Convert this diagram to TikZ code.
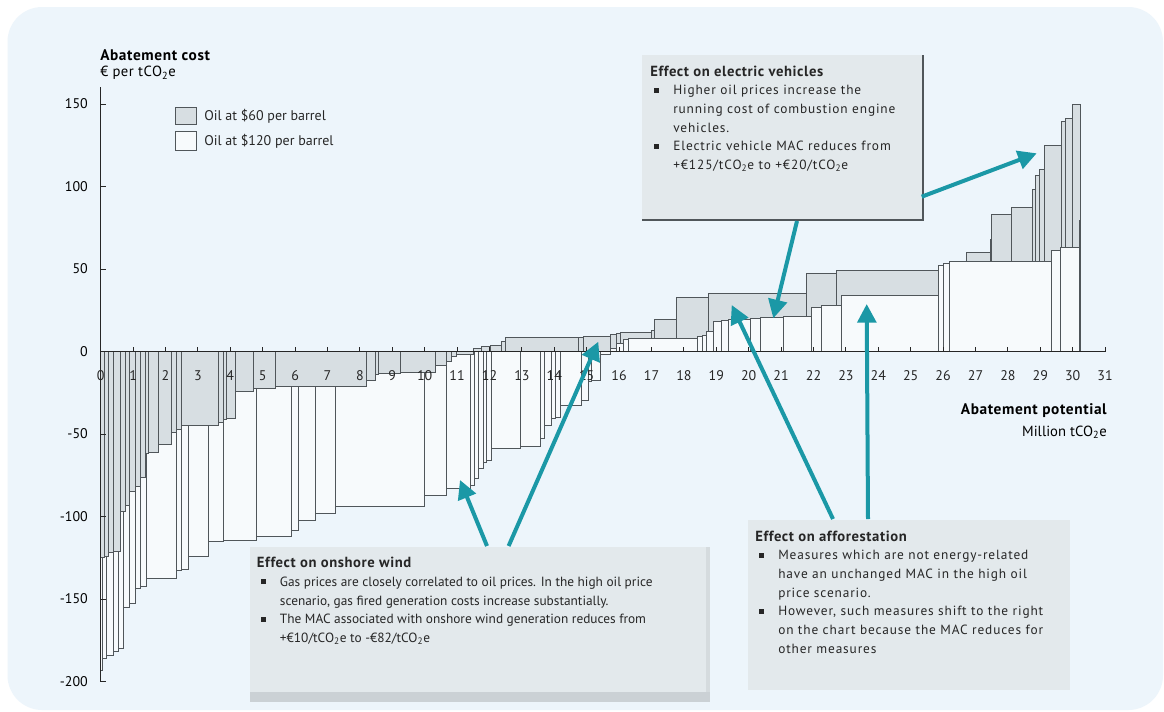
\documentclass[tikz,border=0pt]{standalone}
\usepackage{fontspec}
\setmainfont{PT Sans}
\usetikzlibrary{arrows.meta}
\definecolor{panel}{HTML}{EDF5FB}
\definecolor{barg}{HTML}{D7DEE2}
\definecolor{barw}{HTML}{F7FAFC}
\definecolor{edgec}{HTML}{50565A}
\definecolor{boxf}{HTML}{E3E9EC}
\definecolor{boxsh}{HTML}{CBD1D5}
\definecolor{arrc}{HTML}{1B98A6}
\definecolor{txt}{HTML}{262626}
\newcommand\bul{\rule[1.6pt]{3.8pt}{3.8pt}}
\newcommand\bi[1]{\hspace*{3pt}\makebox[14.25pt][l]{\bul}#1}
\newcommand\ci[1]{\hspace*{17.25pt}#1}
\newcommand\tco{tCO\textsubscript{2}e}
\newcommand\ttl[1]{{\bfseries\fontsize{11}{14}\selectfont\addfontfeatures{LetterSpace=4}#1}}
\tikzset{
  gbar/.style={draw=edgec, fill=barg, line width=0.55pt},
  wbar/.style={draw=edgec, fill=barw, line width=0.55pt},
  axisl/.style={draw=txt, line width=0.7pt},
  xlab/.style={font=\fontsize{10.5}{12}\selectfont, text=txt, inner sep=0pt},
  ylab/.style={font=\fontsize{10.5}{12}\selectfont, text=black, anchor=east, inner sep=0pt},
  boxtxt/.style={anchor=north west, inner sep=0pt, align=left, text=txt, font=\fontsize{10}{14}\selectfont},
  boxtxtw/.style={boxtxt, font=\fontsize{10}{14}\selectfont\addfontfeatures{LetterSpace=6.5}},
  calbox/.style={fill=boxf, inner sep=0pt, draw=none},
  arr/.style={draw=arrc, line width=3pt, -{Triangle[length=14pt,width=14pt]}},
}
\begin{document}
\begin{tikzpicture}[x=0.75pt,y=-0.75pt]
\useasboundingbox (0,0) rectangle (1164,711);
\fill[white] (0,0) rectangle (1164,711);
\fill[panel, rounded corners=26pt] (7.5,7) rectangle (1163,710);

% legend
\draw[gbar] (175.7,107.3) rectangle (196.7,124.3);
\draw[wbar] (175.7,131.7) rectangle (196.7,150);
\node[anchor=west, inner sep=0pt, text=txt, font=\fontsize{10.5}{12}\selectfont] (leg1) at (204,116.7) {Oil at \$60 per barrel};
\node[anchor=west, inner sep=0pt, text=txt, font=\fontsize{10.5}{12}\selectfont] (leg2) at (204,140.8) {Oil at \$120 per barrel};

% axis titles
\node[anchor=west, inner sep=0pt, font=\bfseries\fontsize{11.5}{13}\selectfont\addfontfeatures{LetterSpace=4}] (ytitle) at (100,55) {Abatement cost};
\node[anchor=west, inner sep=0pt, font=\fontsize{11}{13}\selectfont\addfontfeatures{LetterSpace=3}] (yunit) at (100,73) {€ per \tco};
\node[anchor=east, inner sep=0pt, font=\bfseries\fontsize{11.5}{13}\selectfont\addfontfeatures{LetterSpace=4}] (xtitle) at (1107,411) {Abatement potential};
\node[anchor=east, inner sep=0pt, font=\fontsize{11}{13}\selectfont] (xunit) at (1107,432) {Million \tco};

\begin{scope}[shift={(100.7,351.5)},x=24.3pt,y=1.2375pt]
% white (oil at 120) negative bars
\foreach \a/\b/\v in {0/0.06/-193, 0.06/0.19/-186, 0.19/0.39/-184, 0.39/0.54/-182, 0.54/0.70/-180, 0.70/0.88/-155, 0.88/1.06/-152.6, 1.06/1.21/-143.5, 1.21/1.42/-142.5, 1.42/2.35/-137.5, 2.35/2.50/-132.4, 2.50/2.70/-132, 2.70/3.32/-124.3, 3.32/3.78/-115.3, 3.78/4.81/-114.2, 4.81/5.89/-112.2, 5.89/6.10/-108.2, 6.10/6.61/-102.1, 6.61/7.23/-98.1, 7.23/9.98/-94, 9.98/10.68/-87, 10.68/11.40/-83, 11.40/11.52/-81, 11.52/11.65/-77, 11.65/11.81/-71, 11.81/11.91/-67, 11.91/12.07/-66, 12.07/12.94/-58.7, 12.94/13.56/-57.7, 13.56/13.68/-52.6, 13.68/13.92/-44.5, 13.92/14.02/-40.5, 14.02/14.18/-40, 14.18/14.85/-32.4, 14.85/15.05/-29.4, 15.05/15.15/-18.3, 15.15/15.41/-17.3, 15.41/15.72/-1.5}
  \draw[wbar] (\a,0) rectangle (\b,\v);
% grey (oil at 60) negative bars
\foreach \a/\b/\v in {0/0.10/-125, 0.10/0.23/-124, 0.23/0.39/-122, 0.39/0.60/-121, 0.60/0.75/-97, 0.75/0.90/-93, 0.90/1.06/-85, 1.06/1.21/-82, 1.21/1.37/-76, 1.37/1.47/-62, 1.47/1.78/-61, 1.78/2.19/-56, 2.19/2.35/-49, 2.35/2.50/-47, 2.50/3.63/-44.5, 3.63/3.79/-43, 3.79/3.89/-41, 3.89/4.15/-40.5, 4.15/4.71/-24, 4.71/5.38/-22.3, 5.38/8.21/-21, 8.21/8.47/-17.5, 8.47/8.57/-14, 8.57/9.24/-13.5, 9.24/10.32/-12.5, 10.32/10.68/-8.5, 10.68/10.83/-6.2, 10.83/10.99/-2.7, 10.99/11.5/-1.5}
  \draw[gbar] (\a,0) rectangle (\b,\v);
% grey positive bars
\foreach \a/\b/\v in {11.5/11.76/2, 11.76/12.02/3.3, 12.02/12.38/3.5, 12.38/12.48/6, 12.48/14.74/8.6, 14.74/14.9/8.8, 14.9/15.72/9.3, 15.72/15.93/10.4, 15.93/16.03/11, 16.03/17.0/11.4, 17.0/17.1/12.6, 17.1/17.78/19.5, 17.78/18.77/32.8, 18.77/21.79/35.3, 21.79/22.72/47.4, 22.72/25.85/49.4, 25.85/26.0/52.4, 26.0/26.2/53, 26.2/26.71/54, 26.71/27.45/60, 27.45/27.5/65.6, 27.5/28.12/83.3, 28.12/28.77/87.2, 28.77/28.84/98.3, 28.84/28.97/107, 28.97/29.11/110.4, 29.11/29.66/124.7, 29.66/29.78/139.3, 29.78/29.99/141.3, 29.99/30.23/149.8}
  \draw[gbar] (\a,0) rectangle (\b,\v);
% white positive bars
\foreach \a/\b/\v in {15.72/15.93/2, 15.93/16.13/5, 16.13/16.28/7.5, 16.28/18.4/8, 18.4/18.58/9, 18.58/18.7/10, 18.7/18.91/12, 18.91/19.17/18, 19.17/19.37/18.6, 19.37/20.04/19.5, 20.04/20.35/20, 20.35/21.07/20.7, 21.07/21.94/21, 21.94/22.25/26.8, 22.25/22.87/28.2, 22.87/25.85/34.2, 25.85/26.0/52.4, 26.0/26.2/53.4, 26.2/29.35/54.5, 29.35/29.61/61, 29.61/30.2/63.2}
  \draw[wbar] (\a,0) rectangle (\b,\v);
\draw[edgec, line width=1.1pt] (30.23,0) -- (30.23,80);
\draw[edgec, line width=1.1pt] (27.47,54.5) -- (27.47,68);
% axes
\draw[axisl] (0,160.3) -- (0,-200) -- (0.16,-200);
\foreach \v in {150,100,50,-50,-100,-150}
  \draw[axisl] (0,\v) -- (0.16,\v);
\draw[axisl] (0,0) -- (31,0);
\foreach \i in {1,...,31}
  \draw[axisl] (\i,0) -- (\i,3);
\foreach \i in {0,...,31}
  \node[xlab] (xl\i) at (\i,-14.8) {\i};
\foreach \v in {150,100,50,0,-50,-100,-150,-200}
  \node[ylab] (yl\v) at (-0.39,\v) {\v};
\end{scope}

% callout boxes
\fill[boxf] (641.7,55) rectangle (922.7,220);
\node[calbox, minimum width=210.75pt, minimum height=123.75pt] (evbox) at (782.2,137.5) {};
\draw[edgec, line width=1.4pt] (922.7,55) -- (922.7,220) -- (642,220);
\node[boxtxtw] (evtext) at (650,65.5) {\ttl{Effect on electric vehicles}\\
\bi{Higher oil prices increase the}\\
\ci{running cost of  combustion engine}\\
\ci{vehicles.}\\
\bi{Electric vehicle MAC  reduces from}\\
\ci{+€125/\tco{} to +€20/\tco}};

\node[calbox, minimum width=345pt, minimum height=116.25pt] (wbox) at (480,624.3) {};
\fill[boxsh] (250,692) rectangle (710,702);
\fill[boxsh!60!boxf] (706,546.7) rectangle (710,692);
\node[boxtxt] (wtext) at (256.7,557) {\ttl{Effect on onshore wind}\\
\bi{Gas prices are closely correlated to oil prices. In the high oil price}\\
\ci{scenario, gas fired generation costs increase substantially.}\\
\bi{The MAC associated with onshore wind generation reduces from}\\
\ci{+€10/\tco{} to -€82/\tco}};

\node[calbox, minimum width=241.3pt, minimum height=127.5pt] (abox) at (909.2,605) {};
\node[boxtxtw] (atext) at (755,530.5) {\ttl{Effect on afforestation}\\
\bi{Measures which are  not energy-related}\\
\ci{have an unchanged  MAC in the high oil}\\
\ci{price scenario.}\\
\bi{However, such measures shift to the right}\\
\ci{on the chart because  the MAC reduces for}\\
\ci{other measures}};

% arrows
\coordinate (ev1s) at (921.7,196.7);
\coordinate (ev1e) at (1036.7,153.3);
\coordinate (ev2s) at (797,221);
\coordinate (ev2e) at (773.3,318.3);
\coordinate (af1s) at (833,519);
\coordinate (af1e) at (731.7,305);
\coordinate (af2s) at (868,519);
\coordinate (af2e) at (866.7,304);
\coordinate (wd1s) at (487,546);
\coordinate (wd1e) at (460,480);
\coordinate (wd2s) at (508.6,546);
\coordinate (wd2e) at (598.3,341.7);
\draw[arr] (ev1s) -- (ev1e);
\draw[arr] (ev2s) -- (ev2e);
\draw[arr] (af1s) -- (af1e);
\draw[arr] (af2s) -- (af2e);
\draw[arr] (wd1s) -- (wd1e);
\draw[arr] (wd2s) -- (wd2e);
\end{tikzpicture}
\end{document}
